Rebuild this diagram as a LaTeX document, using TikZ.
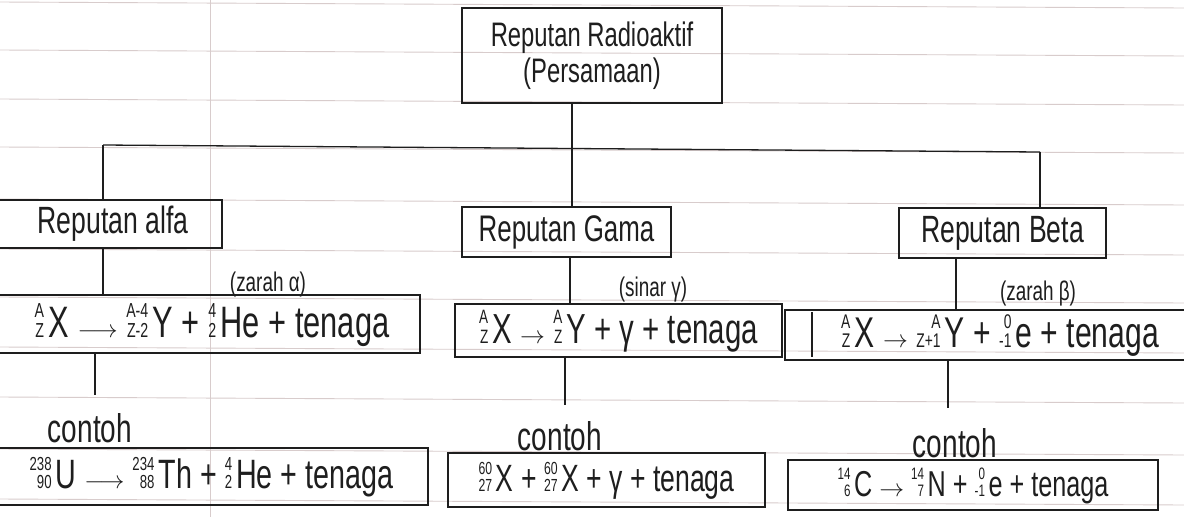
\documentclass[tikz,border=0pt]{standalone}
\usepackage{amsmath}
\usepackage{graphicx}
\usepackage{fontspec}
\setmainfont[FakeStretch=0.7]{Liberation Sans}
\usetikzlibrary{calc}
\newcommand\iso[3]{\mbox{\scalebox{0.46}{\begin{tabular}[b]{@{}r@{}}#1\\[-0.1em]#2\end{tabular}}\kern0.1em#3}}
\definecolor{ink}{HTML}{1E1E1E}
\definecolor{rule}{HTML}{D8CCCC}
\tikzset{
  box/.style={draw=ink, line width=1.3pt, inner sep=0pt, text=ink},
  conn/.style={draw=ink, line width=1.3pt},
  lbl/.style={text=ink, inner sep=0pt},
  ruled/.style={draw=rule, line width=0.9pt},
}
\begin{document}
\begin{tikzpicture}[x=1pt,y=-1pt]
\useasboundingbox (0,0) rectangle (1184,517);
\fill[white] (0,0) rectangle (1184,517);
% ruled paper
\foreach \y in {5,53,102,150,202,252,300,350,400,452,502}
  \draw[ruled] (0,\y-3) -- (1184,\y+3);
\draw[rule, line width=0.8pt] (210,0) -- (210,517);

% root
\node[box, minimum width=260pt, minimum height=95pt, align=center,
      font=\fontsize{34}{36}\selectfont] (root) at (592,55.5)
  {Reputan Radioaktif\\(Persamaan)};

% level 1 boxes
\node[box, minimum width=227pt, minimum height=48pt,
      font=\fontsize{38}{40}\selectfont] (alfa) at (108.5,224) {\hspace*{9pt}Reputan alfa};
\node[box, minimum width=209pt, minimum height=50pt,
      font=\fontsize{37}{40}\selectfont] (gama) at (566.5,232) {Reputan Gama};
\node[box, minimum width=207pt, minimum height=50pt,
      font=\fontsize{38}{40}\selectfont] (beta) at (1002.5,233) {Reputan Beta};

% annotations
\node[lbl, font=\fontsize{27}{30}\selectfont] (zL) at (268,285) {(zarah α)};
\node[lbl, font=\fontsize{27}{30}\selectfont] (zM) at (653,290) {(sinar γ)};
\node[lbl, font=\fontsize{27}{30}\selectfont] (zR) at (1038,294) {(zarah β)};

% equation boxes
\node[box, minimum width=425pt, minimum height=58pt,
      font=\fontsize{44}{48}\selectfont] (eqL) at (207.5,324)
  {\hspace*{9pt}\iso{A}{Z}{X} \ensuremath{\longrightarrow} \iso{A-4}{Z-2}{Y} + \iso{4}{2}{He} + tenaga};
\node[box, minimum width=327pt, minimum height=53pt,
      font=\fontsize{42}{46}\selectfont] (eqM) at (618.5,330.5)
  {\iso{A}{Z}{X} \ensuremath{\rightarrow} \iso{A}{Z}{Y} + γ + tenaga};
\node[box, minimum width=405pt, minimum height=50pt,
      font=\fontsize{43}{46}\selectfont] (eqR) at (987.5,335)
  {\hspace*{25pt}\iso{A}{Z}{X} \ensuremath{\rightarrow} \iso{A}{Z+1}{Y} + \iso{0}{-1}{e} + tenaga};
\coordinate (inA) at (812,312);
\coordinate (inB) at (812,357);
\draw[conn] (inA) -- (inB);

% contoh labels
\node[lbl, font=\fontsize{40}{42}\selectfont] (cL) at (90,428) {contoh};
\node[lbl, font=\fontsize{40}{42}\selectfont] (cM) at (560,436) {contoh};
\node[lbl, font=\fontsize{40}{42}\selectfont] (cR) at (955,443) {contoh};

% example boxes
\node[box, minimum width=433pt, minimum height=57pt,
      font=\fontsize{41}{44}\selectfont] (exL) at (211.5,476.5)
  {\iso{238}{90}{U} \ensuremath{\longrightarrow} \iso{234}{88}{Th} + \iso{4}{2}{He} + tenaga};
\node[box, minimum width=317pt, minimum height=54pt,
      font=\fontsize{38}{42}\selectfont] (exM) at (606.5,480)
  {\iso{60}{27}{X} + \iso{60}{27}{X} + γ + tenaga};
\node[box, minimum width=370pt, minimum height=50pt,
      font=\fontsize{36}{40}\selectfont] (exR) at (973,485)
  {\iso{14}{6}{C} \ensuremath{\rightarrow} \iso{14}{7}{N} + \iso{0}{-1}{e} + tenaga};

% connectors
\coordinate (jM) at (572,148.5);
\coordinate (jL) at (103,145);
\coordinate (jR) at (1040,152);
\draw[conn] (jM |- root.south) -- (jM);
\draw[conn] (jL) -- (jR);
\draw[conn] (jL) -- (jL |- alfa.north);
\draw[conn] (jM) -- (jM |- gama.north);
\draw[conn] (jR) -- (jR |- beta.north);
\coordinate (aL) at (103,0);
\coordinate (aM) at (570,0);
\coordinate (aR) at (956,0);
\draw[conn] (aL |- alfa.south) -- (aL |- eqL.north);
\draw[conn] (aM |- gama.south) -- (aM |- eqM.north);
\draw[conn] (aR |- beta.south) -- (aR |- eqR.north);
\coordinate (eL) at (95,395);
\coordinate (eM) at (565,405);
\coordinate (eR) at (948,408);
\draw[conn] (eL |- eqL.south) -- (eL);
\draw[conn] (eM |- eqM.south) -- (eM);
\draw[conn] (eR |- eqR.south) -- (eR);
\end{tikzpicture}
\end{document}
